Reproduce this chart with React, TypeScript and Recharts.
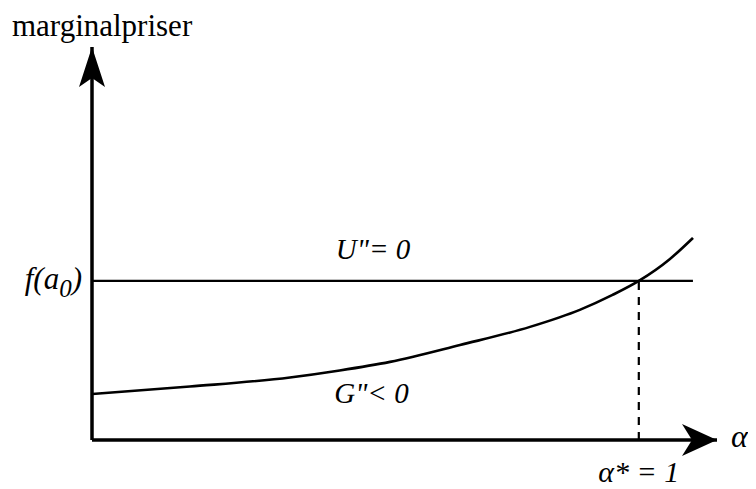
import {
  ComposedChart,
  Line,
  ReferenceDot,
  ReferenceLine,
  XAxis,
  YAxis,
} from "recharts";

// alpha along the horizontal axis, alpha* = 1 where the curves meet
const alpha = [0, 0.179, 0.362, 0.453, 0.545, 0.673, 0.801, 0.892, 0.952, 1.0, 1.057, 1.099];
// marginal price with G'' < 0 (rising curve)
const gPrice = [0.289, 0.336, 0.393, 0.437, 0.491, 0.597, 0.711, 0.818, 0.912, 1.0, 1.138, 1.27];
// flat marginal price with U'' = 0, equal to f(a0)
const uPrice = 1;
const alphaStar = 1;
const lineEnd = 1.099;
const xMax = 1.143;
const yMax = 2.47;

const data = alpha.map((a, i) => ({ alpha: a, g: gPrice[i] }));

const FONT = "'Liberation Serif', 'Times New Roman', serif";

const YArrow = ({ cx, cy }: any) => (
  <g>
    <path
      d={`M${cx} ${cy} L${cx - 13} ${cy + 40} L${cx} ${cy + 31} L${cx + 13} ${cy + 40} Z`}
      fill="#000"
    />
    <text x={4} y={cy - 11} fontFamily={FONT} fontSize={31} fill="#000">
      marginalpriser
    </text>
  </g>
);

const XArrow = ({ cx, cy }: any) => (
  <g>
    <path
      d={`M${cx} ${cy} L${cx - 35} ${cy - 16} L${cx - 25} ${cy} L${cx - 35} ${cy + 16} Z`}
      fill="#000"
    />
    <text
      x={cx + 14}
      y={cy + 7}
      fontFamily={FONT}
      fontStyle="italic"
      fontSize={32}
      fill="#000"
    >
      α
    </text>
  </g>
);

const textAt =
  (label: string, dy: number) =>
  ({ cx, cy }: any) => (
    <text
      x={cx}
      y={cy + dy}
      textAnchor="middle"
      fontFamily={FONT}
      fontStyle="italic"
      fontSize={29}
      fill="#000"
    >
      {label}
    </text>
  );

const PriceTick = ({ x, y }: any) => (
  <text
    x={x - 10}
    y={y + 8}
    textAnchor="end"
    fontFamily={FONT}
    fontStyle="italic"
    fontSize={31}
    fill="#000"
  >
    f(a
    <tspan dy={8} fontSize={25}>0</tspan>
    <tspan dy={-8}>)</tspan>
  </text>
);

const AlphaTick = ({ x, y }: any) => (
  <text
    x={x}
    y={y + 42}
    textAnchor="middle"
    fontFamily={FONT}
    fontStyle="italic"
    fontSize={30}
    fill="#000"
  >
    α* = 1
  </text>
);

export default function App() {
  return (
    <ComposedChart
      width={748}
      height={481}
      data={data}
      margin={{ top: 39, right: 39, bottom: 48, left: 83 }}
    >
      <XAxis
        type="number"
        dataKey="alpha"
        domain={[0, xMax]}
        allowDataOverflow
        ticks={[alphaStar]}
        tick={<AlphaTick />}
        tickLine={false}
        tickSize={0}
        tickMargin={0}
        height={1}
        axisLine={{ stroke: "#000", strokeWidth: 3.5 }}
      />
      <YAxis
        type="number"
        domain={[0, yMax]}
        allowDataOverflow
        ticks={[uPrice]}
        tick={<PriceTick />}
        tickLine={false}
        tickSize={0}
        tickMargin={0}
        width={1}
        axisLine={{ stroke: "#000", strokeWidth: 3.5 }}
      />
      <ReferenceLine
        segment={[
          { x: 0, y: uPrice },
          { x: lineEnd, y: uPrice },
        ]}
        stroke="#000"
        strokeWidth={2.2}
      />
      <ReferenceLine
        segment={[
          { x: alphaStar, y: 0 },
          { x: alphaStar, y: uPrice },
        ]}
        stroke="#000"
        strokeWidth={2.2}
        strokeDasharray="8 7"
      />
      <Line
        type="monotone"
        dataKey="g"
        stroke="#000"
        strokeWidth={2.6}
        dot={false}
        isAnimationActive={false}
      />
      <ReferenceDot x={0.514} y={uPrice} r={0} shape={textAt('U"= 0', -22)} />
      <ReferenceDot x={0.511} y={0.233} r={0} shape={textAt('G"< 0', 0)} />
      <ReferenceDot x={0} y={yMax} r={0} shape={<YArrow />} />
      <ReferenceDot x={xMax} y={0} r={0} shape={<XArrow />} />
    </ComposedChart>
  );
}
